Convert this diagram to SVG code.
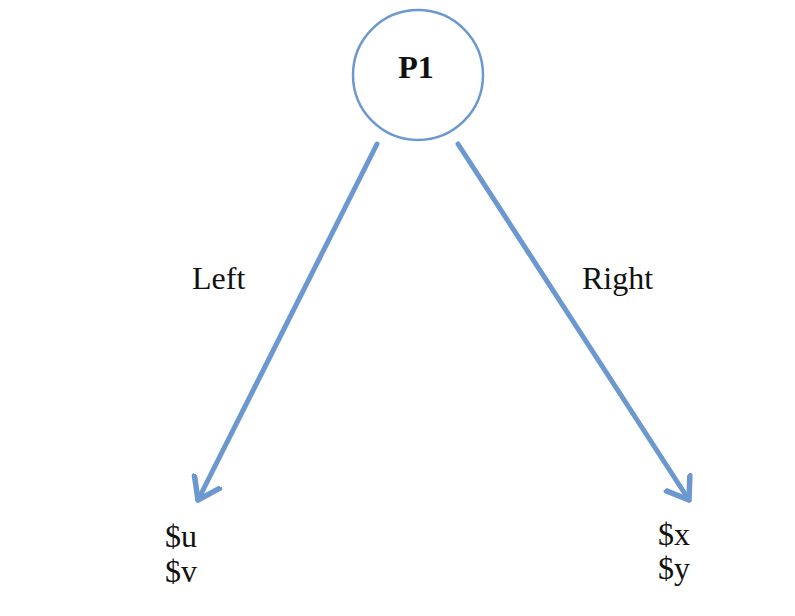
<svg xmlns="http://www.w3.org/2000/svg" width="795" height="616" viewBox="0 0 795 616">
<defs>
<style>
.lbl{font-family:"Liberation Serif","DejaVu Serif",serif;font-size:32px;fill:#111}
.edge{stroke:#6b98cf;stroke-width:5;fill:none;stroke-linecap:round}
</style>
<marker id="ah" markerUnits="userSpaceOnUse" markerWidth="44" markerHeight="44" refX="22" refY="22" orient="auto" viewBox="0 0 44 44">
<path d="M2,8 L22,22 L2,36" fill="none" stroke="#6b98cf" stroke-width="5.5" stroke-linecap="round" stroke-linejoin="round"/>
</marker>
</defs>
<rect width="795" height="616" fill="#fff"/>
<g id="connectors">
<line class="edge" x1="377" y1="144" x2="198" y2="500" marker-end="url(#ah)"/>
<line class="edge" x1="458" y1="144" x2="689" y2="500" marker-end="url(#ah)"/>
</g>
<g id="P1">
<circle cx="418" cy="75" r="65" fill="#fff" stroke="#6b98cf" stroke-width="2.5"/>
<text class="lbl" x="416" y="78" text-anchor="middle" font-weight="bold" font-size="36">P1</text>
</g>
<g id="label-left"><text class="lbl" x="192" y="289">Left</text></g>
<g id="label-right"><text class="lbl" x="582" y="289">Right</text></g>
<g id="leaf-left">
<text class="lbl" x="165" y="547">$u</text>
<text class="lbl" x="165" y="582">$v</text>
</g>
<g id="leaf-right">
<text class="lbl" x="658" y="545">$x</text>
<text class="lbl" x="658" y="579">$y</text>
</g>
</svg>
